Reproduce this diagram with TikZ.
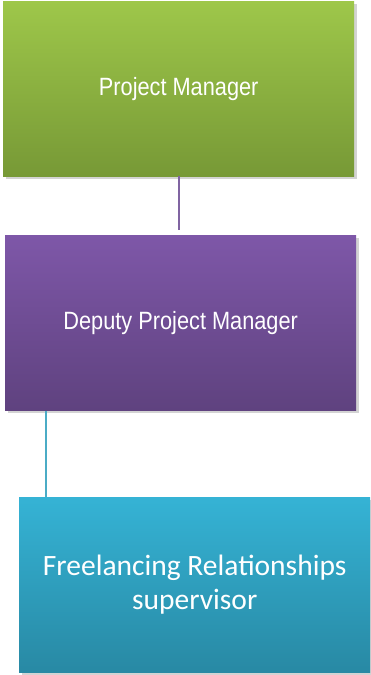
\documentclass[tikz,border=0pt]{standalone}
\usepackage{fontspec}
\setmainfont{Liberation Sans}
\newfontfamily\calibri{Carlito}
\usepackage{tikz}
\usetikzlibrary{positioning, shadows, calc}
\usepackage{xcolor}

\definecolor{greentop}{RGB}{158,199,74}
\definecolor{greenbot}{RGB}{119,153,54}
\definecolor{purpletop}{RGB}{126,87,168}
\definecolor{purplebot}{RGB}{95,66,127}
\definecolor{cyantop}{RGB}{53,179,213}
\definecolor{cyanbot}{RGB}{40,137,164}
\definecolor{purpleline}{RGB}{128,100,162}
\definecolor{cyanline}{RGB}{75,172,198}

\newcommand{\squeeze}[1]{\scalebox{0.87}[1]{#1}}

\begin{document}
\begin{tikzpicture}[
    x=1pt, y=1pt,
    box/.style={
        rectangle, align=center, text=white,
        minimum width=351pt, minimum height=175pt,
        inner sep=0pt,
        drop shadow={opacity=0.35, shadow xshift=2.5pt, shadow yshift=-2.5pt}
    },
    link/.style={line width=1.6pt}
]
    \useasboundingbox (0,0) rectangle (371,-675);
    \node (PM) [box, anchor=north west, top color=greentop, bottom color=greenbot,
        font=\fontsize{25}{30}\selectfont] at (3,-1) {\squeeze{Project Manager}};
    \node (DPM) [box, below=59pt of PM, xshift=2pt, top color=purpletop, bottom color=purplebot,
        font=\fontsize{25}{30}\selectfont] {\squeeze{Deputy Project Manager}};
    \node (FRS) [box, below=86pt of DPM, xshift=14pt, top color=cyantop, bottom color=cyanbot,
        font=\calibri\fontsize{29.5}{34.5}\selectfont] {Freelancing Relationships\\ supervisor};
    \coordinate (l1) at ($(PM.south)+(0,-54)$);
    \coordinate (l2) at ($(FRS.north west)+(27,0)$);
    \draw[link, purpleline] (PM.south) -- (l1);
    \draw[link, cyanline] (l2 |- DPM.south) -- (l2);
\end{tikzpicture}
\end{document}
